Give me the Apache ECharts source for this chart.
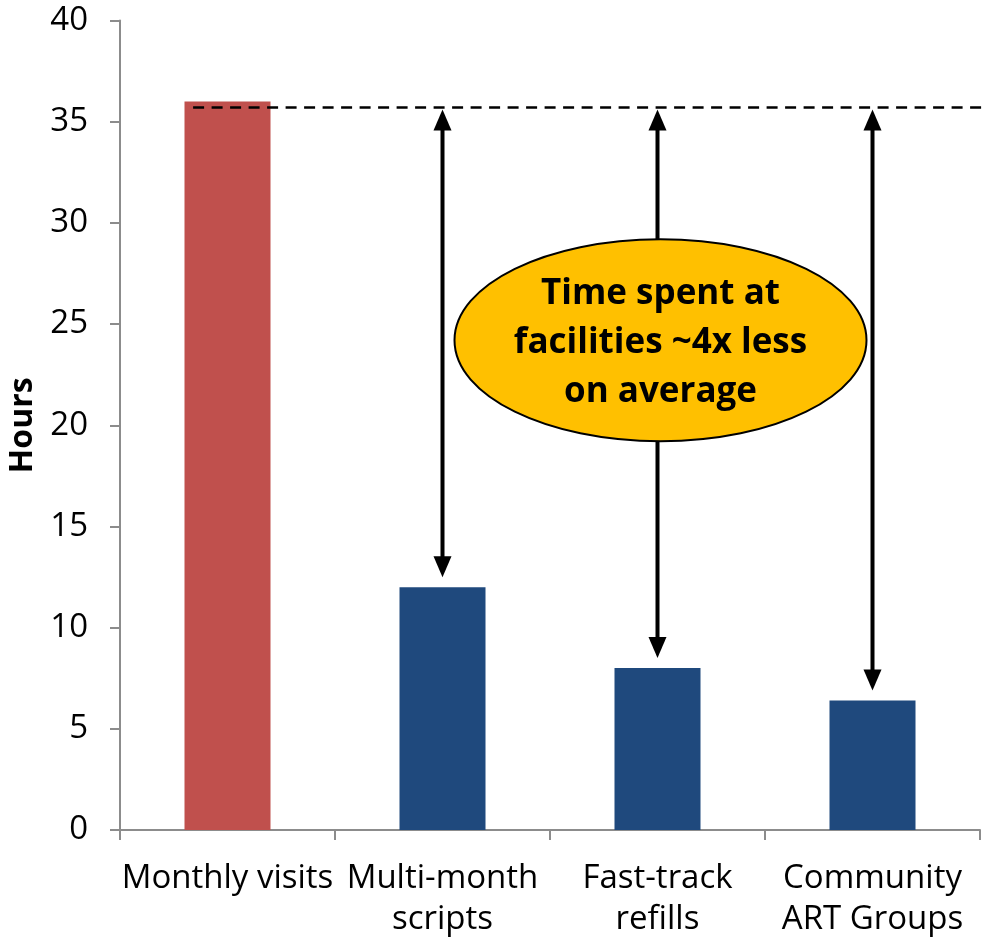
<!DOCTYPE html>
<html>
<head>
<meta charset="utf-8">
<script src="https://cdn.jsdelivr.net/npm/echarts@6/dist/echarts.min.js"></script>
<style>
html,body{margin:0;padding:0;background:#fff;}
#chart{width:996px;height:938px;}
</style>
</head>
<body>
<div id="chart"></div>
<script>
// ---- data ----
const categories = ['Monthly visits', 'Multi-month\nscripts', 'Fast-track\nrefills', 'Community\nART Groups'];
const hours = [36, 12, 8, 6.4];
const referenceLevel = 35.7;          // dashed reference line (hours)
const arrowCategories = [1, 2, 3];    // categories with comparison arrows
const calloutCategory = 2;
const calloutLevel = 24.2;
const calloutLines = ['Time spent at', 'facilities ~4x less', 'on average'];
const yMin = 0, yMax = 40, yStep = 5;

// ---- styles ----
const FONT = '"Open Sans", Lato, sans-serif';
const barColors = ['#C0504D', '#1F497D', '#1F497D', '#1F497D'];
const axisGrey = '#8c8c8c';

const chart = echarts.init(document.getElementById('chart'));

const arrowData = arrowCategories.map(i => [i, referenceLevel, hours[i]]);

function triangle(tipX, tipY, dir, len, half) {
  return { type: 'polygon', shape: { points: [[tipX, tipY], [tipX - half, tipY + dir * len], [tipX + half, tipY + dir * len]] }, style: { fill: '#000' } };
}

chart.setOption({
  animation: false,
  grid: { left: 120, right: 16, top: 20.5, bottom: 108, containLabel: false, outerBoundsMode: 'none' },
  xAxis: {
    type: 'category',
    data: categories,
    boundaryGap: true,
    axisLine: { lineStyle: { color: axisGrey, width: 2 } },
    axisTick: { show: true, length: 10, interval: 0, lineStyle: { color: axisGrey, width: 2 } },
    axisLabel: { interval: 0, margin: 28, color: '#000', fontFamily: FONT, fontSize: 33, lineHeight: 41 }
  },
  yAxis: {
    type: 'value',
    min: yMin, max: yMax, interval: yStep,
    name: 'Hours',
    nameLocation: 'middle',
    nameGap: 80,
    nameTextStyle: { color: '#000', fontFamily: FONT, fontSize: 32, fontWeight: 'bold' },
    axisLine: { show: true, lineStyle: { color: axisGrey, width: 2 } },
    axisTick: { show: true, length: 10, lineStyle: { color: axisGrey, width: 2 } },
    splitLine: { show: false },
    axisLabel: { margin: 32, color: '#000', fontFamily: FONT, fontSize: 33 }
  },
  series: [
    {
      type: 'bar',
      barWidth: '40%',
      z: 2,
      data: hours.map((v, i) => ({ value: v, itemStyle: { color: barColors[i] } }))
    },
    {
      type: 'custom',
      z: 3,
      data: arrowData,
      renderItem: function (params, api) {
        const top = api.coord([api.value(0), api.value(1)]);
        const bot = api.coord([api.value(0), api.value(2)]);
        const x = top[0];
        const topTip = top[1] + 2;
        const botTip = bot[1] - 10;
        const len = 21, half = 9;
        return {
          type: 'group',
          children: [
            { type: 'line', shape: { x1: x, y1: topTip + len - 2, x2: x, y2: botTip - len + 2 }, style: { stroke: '#000', lineWidth: 4 } },
            triangle(x, topTip, 1, len, half),
            triangle(x, botTip, -1, len, half)
          ]
        };
      }
    },
    {
      type: 'custom',
      z: 4,
      data: [[0, referenceLevel]],
      renderItem: function (params, api) {
        const p = api.coord([api.value(0), api.value(1)]);
        const band = api.size([1, 0])[0];
        const cs = params.coordSys;
        return {
          type: 'line',
          shape: { x1: p[0] - 0.16 * band, y1: p[1], x2: cs.x + cs.width + 5, y2: p[1] },
          style: { stroke: '#000', lineWidth: 2.5, lineDash: [11, 7.5] }
        };
      }
    },
    {
      type: 'custom',
      z: 5,
      data: [[calloutCategory, calloutLevel]],
      renderItem: function (params, api) {
        const p = api.coord([api.value(0), api.value(1)]);
        return {
          type: 'group',
          children: [
            { type: 'ellipse', shape: { cx: p[0] + 3, cy: p[1], rx: 206, ry: 101 }, style: { fill: '#FFC000', stroke: '#000', lineWidth: 2 } },
            { type: 'text', x: p[0] + 3, y: p[1] + 3, style: { text: calloutLines.join('\n'), fill: '#000', font: 'bold 35px ' + FONT, lineHeight: 49, align: 'center', verticalAlign: 'middle' } }
          ]
        };
      }
    }
  ]
});
</script>
</body>
</html>
